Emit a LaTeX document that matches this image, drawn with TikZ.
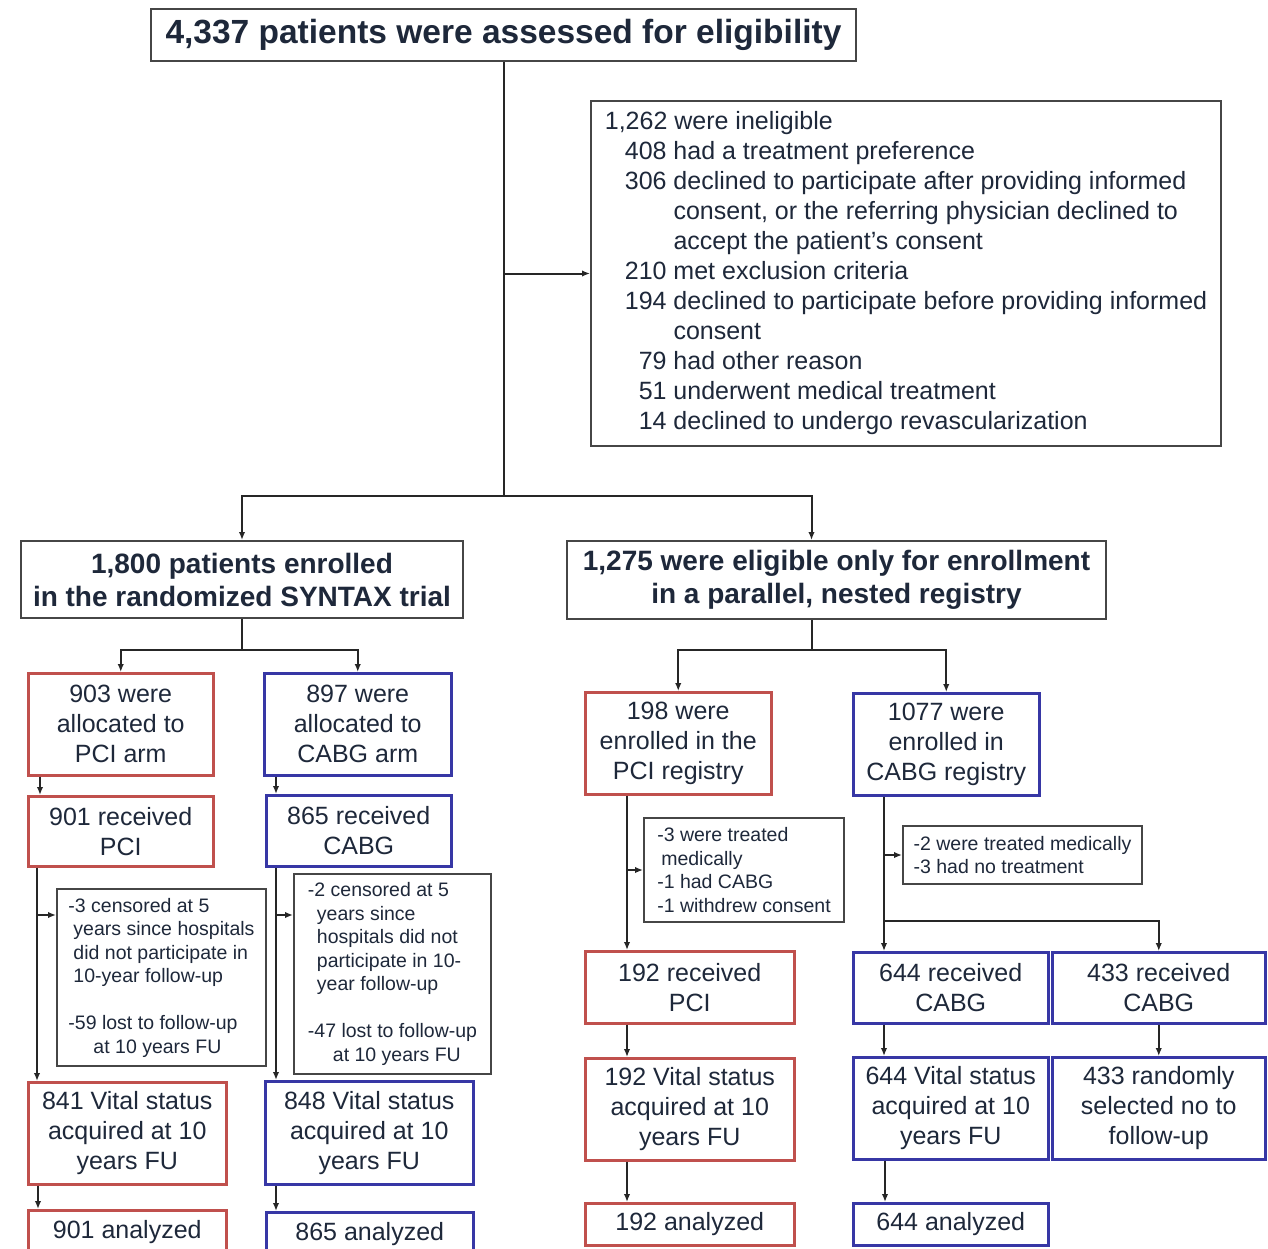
\documentclass[tikz,border=0pt]{standalone}
\usepackage{fontspec}
\setmainfont{Liberation Sans}
\usetikzlibrary{arrows.meta,calc}
\definecolor{inktext}{RGB}{30,40,58}
\definecolor{pcired}{RGB}{192,80,77}
\definecolor{cabgblue}{RGB}{55,55,165}
\definecolor{framegray}{RGB}{70,70,70}

\begin{document}
\begin{tikzpicture}[x=1pt,y=-1pt,
	box/.style={draw, line width=2.5pt, fill=white, text=inktext, inner sep=0pt, align=center, anchor=north west, font=\fontsize{25}{30}\selectfont},
	redbox/.style={box, draw=pcired},
	bluebox/.style={box, draw=cabgblue},
	headbox/.style={box, draw=framegray, line width=2pt, font=\fontsize{28}{33}\selectfont\bfseries},
	notebox/.style={box, draw=framegray, line width=2pt, align=left, font=\fontsize{19.5}{23.5}\selectfont},
	arr/.style={-{Latex[length=8pt,width=6.5pt]}, line width=2pt, draw=black!85},
	link/.style={line width=2pt, draw=black!85}]
	\useasboundingbox (0,0) rectangle (1268,1249);
	\clip (0,0) rectangle (1268,1249);

	% top of the flow
	\node[headbox, font=\fontsize{33.5}{40}\selectfont\bfseries, minimum width=705pt, minimum height=52pt] (assess) at (150,8) {4,337 patients were assessed for eligibility};
	\node[notebox, font=\fontsize{25}{30}\selectfont, minimum width=630pt, minimum height=345pt] (inelig) at (590,100) {%
		\begin{tabular}{@{\hspace{20pt}}r@{ }l@{}}
		\multicolumn{2}{@{}l@{}}{1,262 were ineligible}\\
		408 & had a treatment preference\\
		306 & declined to participate after providing informed\\
		    & consent, or the referring physician declined to\\
		    & accept the patient's consent\\
		210 & met exclusion criteria\\
		194 & declined to participate before providing informed\\
		    & consent\\
		79 & had other reason\\
		51 & underwent medical treatment\\
		14 & declined to undergo revascularization
		\end{tabular}};

	\node[headbox, minimum width=442pt, minimum height=77pt] (trial) at (20,540) {1,800 patients enrolled\\in the randomized SYNTAX trial};
	\node[headbox, minimum width=539pt, minimum height=78pt] (nested) at (566,540) {1,275 were eligible only for enrollment\\in a parallel, nested registry};

	% randomized trial
	\node[redbox, minimum width=185pt, minimum height=102pt] (pciarm) at (27,672) {903 were\\allocated to\\PCI arm};
	\node[bluebox, minimum width=187pt, minimum height=102pt] (cabgarm) at (263,672) {897 were\\allocated to\\CABG arm};
	\node[redbox, minimum width=185pt, minimum height=70pt] (pcirec) at (27,795) {901 received\\PCI};
	\node[bluebox, minimum width=185pt, minimum height=71pt] (cabgrec) at (265,794) {865 received\\CABG};
	\node[notebox, minimum width=209pt, minimum height=177pt] (censpci) at (56,888) {-3 censored at 5\\
		\hspace*{5pt}years since hospitals\\
		\hspace*{5pt}did not participate in\\
		\hspace*{5pt}10-year follow-up\\[23.5pt]
		-59 lost to follow-up\\
		\hspace*{25pt}at 10 years FU};
	\node[notebox, minimum width=197pt, minimum height=200pt] (censcabg) at (293,873) {-2 censored at 5\\
		\hspace*{9pt}years since\\
		\hspace*{9pt}hospitals did not\\
		\hspace*{9pt}participate in 10-\\
		\hspace*{9pt}year follow-up\\[23.5pt]
		-47 lost to follow-up\\
		\hspace*{25pt}at 10 years FU};
	\node[redbox, minimum width=198pt, minimum height=102pt] (pcivital) at (27,1081) {841 Vital status\\acquired at 10\\years FU};
	\node[bluebox, minimum width=208pt, minimum height=103pt] (cabgvital) at (264,1080) {848 Vital status\\acquired at 10\\years FU};
	\node[redbox, minimum width=198pt, minimum height=44pt] (pcian) at (27,1209) {901 analyzed};
	\node[bluebox, minimum width=207pt, minimum height=44pt] (cabgan) at (265,1211) {865 analyzed};

	% nested registry
	\node[redbox, minimum width=186pt, minimum height=102pt] (regpci) at (584,691) {198 were\\enrolled in the\\PCI registry};
	\node[bluebox, minimum width=186pt, minimum height=102pt] (regcabg) at (852,692) {1077 were\\enrolled in\\CABG registry};
	\node[notebox, minimum width=200pt, minimum height=104pt] (notepci) at (643,817) {-3 were treated\\
		\hspace*{4pt}medically\\
		-1 had CABG\\
		-1 withdrew consent};
	\node[notebox, minimum width=239pt, minimum height=58pt] (notecabg) at (902,825) {-2 were treated medically\\-3 had no treatment};
	\node[redbox, minimum width=209pt, minimum height=72pt] (rpcirec) at (584,950) {192 received\\PCI};
	\node[bluebox, minimum width=195pt, minimum height=71pt] (rcabgrec) at (852,951) {644 received\\CABG};
	\node[bluebox, minimum width=213pt, minimum height=71pt] (rnofu) at (1051,951) {433 received\\CABG};
	\node[redbox, minimum width=209pt, minimum height=102pt] (rpcivital) at (584,1057) {192 Vital status\\acquired at 10\\years FU};
	\node[bluebox, minimum width=195pt, minimum height=102pt] (rcabgvital) at (852,1056) {644 Vital status\\acquired at 10\\years FU};
	\node[bluebox, minimum width=213pt, minimum height=102pt] (rnofusel) at (1051,1056) {433 randomly\\selected no to\\follow-up};
	\node[redbox, minimum width=209pt, minimum height=42pt] (rpcian) at (584,1202) {192 analyzed};
	\node[bluebox, minimum width=195pt, minimum height=42pt] (rcabgan) at (852,1202) {644 analyzed};

	% connectors
	\path (assess.south) ++(0,434) coordinate (fork);
	\draw[link] (assess.south) -- (fork);
	\draw[arr] (assess.south |- inelig.west) -- (inelig.west);
	\draw[arr] (fork) -| (trial.north);
	\draw[arr] (fork) -| ([xshift=-25pt]nested.north);

	\path (trial.south) ++(0,31) coordinate (forkrct);
	\draw[link] (trial.south) -- (forkrct);
	\draw[arr] (forkrct) -| (pciarm.north);
	\draw[arr] (forkrct) -| (cabgarm.north);

	\path ([xshift=-25pt]nested.south) ++(0,30) coordinate (forkreg);
	\draw[link] ([xshift=-25pt]nested.south) -- (forkreg);
	\draw[arr] (forkreg) -| (regpci.north);
	\draw[arr] (forkreg) -| (regcabg.north);

	\draw[arr] ([xshift=13pt]pciarm.south west) -- ([xshift=13pt]pcirec.north west);
	\draw[arr] ([xshift=13pt]cabgarm.south west) -- ([xshift=11pt]cabgrec.north west);

	\coordinate (pcitrunk) at ([xshift=10pt]pcirec.south west);
	\coordinate (censpcin) at ([yshift=-27pt]censpci.north west);
	\draw[arr] (pcitrunk) -- (pcitrunk |- pcivital.north);
	\draw[arr] (pcitrunk |- censpcin) -- (censpcin);
	\coordinate (cabgtrunk) at ([xshift=11pt]cabgrec.south west);
	\coordinate (censcabgin) at ([yshift=-42pt]censcabg.north west);
	\draw[arr] (cabgtrunk) -- (cabgtrunk |- cabgvital.north);
	\draw[arr] (cabgtrunk |- censcabgin) -- (censcabgin);

	\draw[arr] ([xshift=11pt]pcivital.south west) -- ([xshift=11pt]pcian.north west);
	\draw[arr] ([xshift=12pt]cabgvital.south west) -- ([xshift=11pt]cabgan.north west);

	\coordinate (rpcitrunk) at ([xshift=43pt]regpci.south west);
	\draw[arr] (rpcitrunk) -- (rpcitrunk |- rpcirec.north);
	\draw[arr] (rpcitrunk |- notepci.west) -- (notepci.west);
	\draw[arr] ([xshift=43pt]rpcirec.south west) -- ([xshift=43pt]rpcivital.north west);
	\draw[arr] ([xshift=43pt]rpcivital.south west) -- ([xshift=43pt]rpcian.north west);

	\coordinate (rcabgtrunk) at ([xshift=32pt]regcabg.south west);
	\path (rcabgtrunk) ++(0,124) coordinate (forknofu);
	\draw[arr] (rcabgtrunk) -- (rcabgtrunk |- rcabgrec.north);
	\draw[arr] (rcabgtrunk |- notecabg.west) -- (notecabg.west);
	\draw[arr] (forknofu) -| (rnofu.north);
	\draw[arr] ([xshift=32pt]rcabgrec.south west) -- ([xshift=32pt]rcabgvital.north west);
	\draw[arr] ([xshift=33pt]rcabgvital.south west) -- ([xshift=33pt]rcabgan.north west);
	\draw[arr] (rnofu.south) -- (rnofusel.north);
\end{tikzpicture}
\end{document}
